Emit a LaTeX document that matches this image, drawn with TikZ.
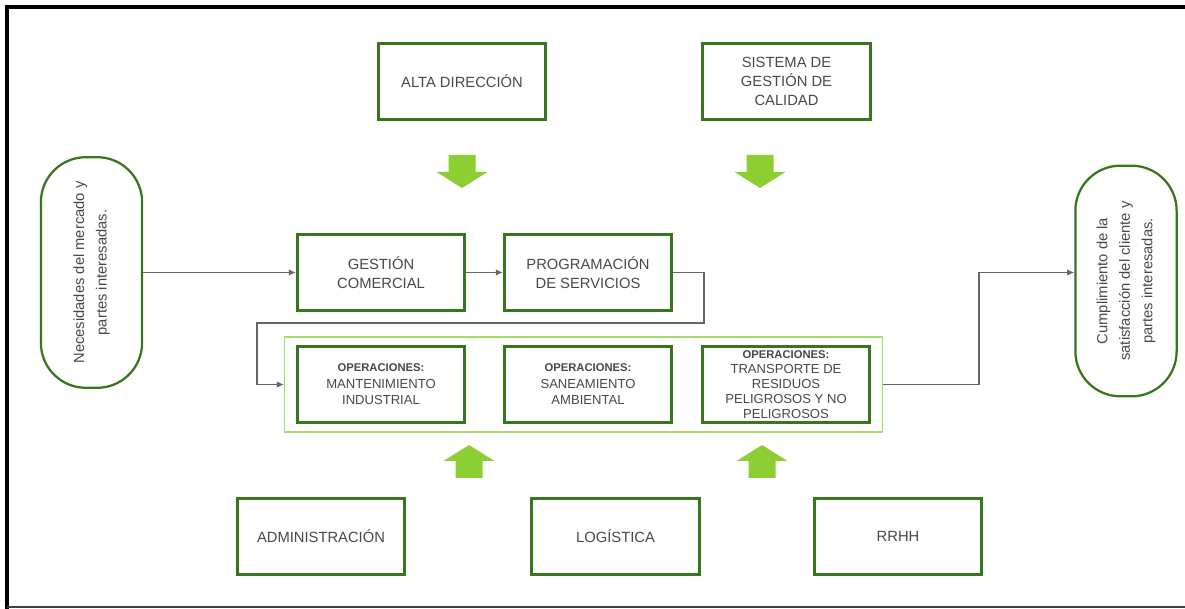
\documentclass[tikz,border=0pt]{standalone}
\usepackage{fontspec}
\setmainfont{Liberation Sans}
\usetikzlibrary{arrows.meta,positioning,fit,calc}
\definecolor{boxgreen}{HTML}{38761D}
\definecolor{framegreen}{HTML}{A8DC6A}
\definecolor{arrowgreen}{HTML}{8DCF32}
\definecolor{textgray}{HTML}{484848}
\definecolor{linegray}{HTML}{666666}
\newcommand\opshead{{\bfseries\fontsize{8}{9}\selectfont OPERACIONES:}}
\tikzset{
  unit/.style={draw=boxgreen, line width=2pt, minimum width=119pt, minimum height=54pt, align=center, text=textgray, font=\fontsize{10.5}{13.5}\selectfont},
  opunit/.style={unit, inner sep=0.5pt, font=\fontsize{9.3}{11.7}\selectfont},
  party/.style={draw=boxgreen, line width=1.6pt, rounded corners=32pt, rotate=90, minimum width=164pt, minimum height=72pt, align=center, text=textgray, font=\fontsize{10.5}{16}\selectfont},
  opsframe/.style={draw=framegreen, line width=1pt, inner xsep=8pt, inner ysep=5.7pt},
  line/.style={-{Latex[length=5pt,width=4.5pt]}, draw=linegray, line width=0.9pt}
}
\begin{document}
\begin{tikzpicture}[x=0.025cm, y=-0.025cm]
  \useasboundingbox (0,0) rectangle (1185,609);
  \draw[line width=3pt] (7,609) -- (7,7) -- (1185,7);
  \draw[line width=1.5pt, draw=black!75] (7,607) -- (1185,607);

  \node[unit] (alta) at (462,81.5) {ALTA DIRECCIÓN};
  \node[unit] (sgc) at (786.5,81.5) {SISTEMA DE\\GESTIÓN DE\\CALIDAD};
  \node[unit] (gc) at (381,272.5) {GESTIÓN\\COMERCIAL};
  \node[unit] (prog) at (588,272.5) {PROGRAMACIÓN\\DE SERVICIOS};
  \node[opunit] (opmant) at (381,384.5) {\opshead\\MANTENIMIENTO\\INDUSTRIAL};
  \node[opunit] (opsan) at (588,384.5) {\opshead\\SANEAMIENTO\\AMBIENTAL};
  \node[opunit, font=\fontsize{9.3}{10.7}\selectfont] (optrans) at (786,384.5) {\opshead\\TRANSPORTE DE\\RESIDUOS\\PELIGROSOS Y NO\\PELIGROSOS};
  \node[opsframe, fit=(opmant)(optrans)] (ops) {};
  \node[unit] (adm) at (321,536.5) {ADMINISTRACIÓN};
  \node[unit] (log) at (615.5,536.5) {LOGÍSTICA};
  \node[unit] (rrhh) at (898,536.5) {RRHH};
  \node[party] (nec) at (91.5,272.5) {Necesidades del mercado y\\partes interesadas.};
  \node[party] (sat) at (1126,281) {Cumplimiento de la\\satisfacción del cliente y\\partes interesadas.};

  \foreach \cx/\by/\d in {462/155/1, 760/155/1, 469/478/-1, 762/478/-1}
    \fill[arrowgreen] (\cx-13.5,\by) -- (\cx+13.5,\by) -- (\cx+13.5,\by+\d*17) -- (\cx+25.5,\by+\d*17)
      -- (\cx,\by+\d*33) -- (\cx-25.5,\by+\d*17) -- (\cx-13.5,\by+\d*17) -- cycle;

  \coordinate (loopA) at (704,323);
  \coordinate (loopB) at (257,323);
  \coordinate (outA) at (979,272.5);

  \draw[line] (nec) -- (gc);
  \draw[line] (gc) -- (prog);
  \draw[line] (prog.east) -| (loopA) -- (loopB) |- (ops.west);
  \draw[line] (ops.east) -| (outA) -- (outA -| sat.north);
\end{tikzpicture}
\end{document}
